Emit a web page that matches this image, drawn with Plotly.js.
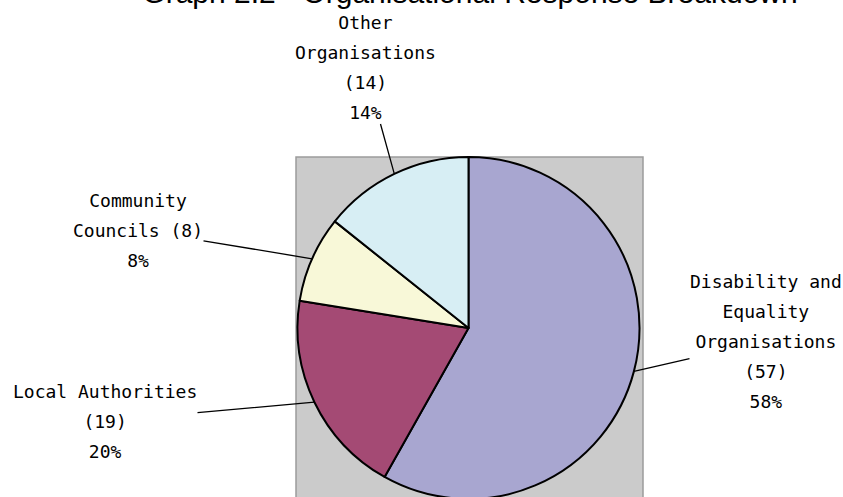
<!DOCTYPE html>
<html>
<head>
<meta charset="utf-8">
<script src="https://cdn.plot.ly/plotly-3.0.1.min.js"></script>
<style>
  html, body { margin: 0; padding: 0; overflow: hidden; width: 843px; height: 497px; background: #fff; }
  #chart { position: absolute; left: 0; top: -40px; width: 843px; height: 580px; }
</style>
</head>
<body>
<div id="chart"></div>
<script>
// ---- data ----
const categories = ["Disability and Equality Organisations", "Local Authorities", "Community Councils", "Other Organisations"];
const labelLines = ["Disability and<br>Equality<br>Organisations", "Local Authorities", "Community<br>Councils", "Other<br>Organisations"];
const countSeparators = ["<br>", "<br>", " ", "<br>"];
const responses = [57, 19, 8, 14];
const percentLabels = ["58%", "20%", "8%", "14%"];
const sliceColors = ["#A8A6D0", "#A44A74", "#F8F8D8", "#D7EEF4"];
const chartTitle = "Graph 2.2 - Organisational Response Breakdown";

// ---- layout geometry ----
const W = 843, H = 580;
const pieDomain = { x: [297.5 / W, 639.5 / W], y: [1 - 539 / H, 1 - 197 / H] };
// label box centres in page pixels (layout positions)
const labelCentres = [[766, 381], [105, 461], [138, 270], [365, 108]];

const cx = (pieDomain.x[0] + pieDomain.x[1]) / 2 * W;
const cy = (1 - (pieDomain.y[0] + pieDomain.y[1]) / 2) * H;
const R = Math.min((pieDomain.x[1] - pieDomain.x[0]) * W, (pieDomain.y[1] - pieDomain.y[0]) * H) / 2;

const total = responses.reduce((a, b) => a + b, 0);
let cum = 0;
const annotations = categories.map((c, i) => {
  const mid = (cum + responses[i] / 2) / total * 2 * Math.PI;
  cum += responses[i];
  const tx = cx + R * Math.sin(mid);
  const ty = cy - R * Math.cos(mid);
  const text = '<span style="font-size:18px">' + labelLines[i] + countSeparators[i] +
               '(' + responses[i] + ')<br>' + percentLabels[i] + '</span>';
  return {
    x: tx / W, y: 1 - ty / H, xref: 'paper', yref: 'paper',
    text: text, showarrow: true, arrowhead: 0, arrowwidth: 1.3, arrowcolor: '#000',
    ax: labelCentres[i][0] - tx, ay: labelCentres[i][1] - ty,
    standoff: 0, startstandoff: 0, borderpad: 0,
    font: { family: 'DejaVu Sans Mono', size: 23, color: '#000' },
    align: 'center'
  };
});

const trace = {
  type: 'pie',
  labels: categories,
  values: responses,
  sort: false,
  direction: 'clockwise',
  rotation: 0,
  domain: pieDomain,
  marker: { colors: sliceColors, line: { color: '#000', width: 2 } },
  textinfo: 'none',
  hoverinfo: 'label+value+percent',
  showlegend: false
};

const layout = {
  width: W, height: H,
  margin: { l: 0, r: 0, t: 0, b: 0, autoexpand: false },
  paper_bgcolor: '#fff',
  showlegend: false,
  title: {
    text: chartTitle,
    font: { family: 'Liberation Sans, Arial, sans-serif', size: 30, color: '#000' },
    x: 470 / W, xanchor: 'center', xref: 'container',
    y: 1 - 43 / H, yanchor: 'bottom', yref: 'container'
  },
  shapes: [{
    type: 'rect', xref: 'paper', yref: 'paper', layer: 'below',
    x0: 296 / W, x1: 643 / W, y0: 1 - 544 / H, y1: 1 - 197 / H,
    fillcolor: '#CBCBCB', line: { color: '#9C9C9C', width: 1.5 }
  }],
  annotations: annotations
};

Plotly.newPlot('chart', [trace], layout, { staticPlot: true, displayModeBar: false });
</script>
</body>
</html>
